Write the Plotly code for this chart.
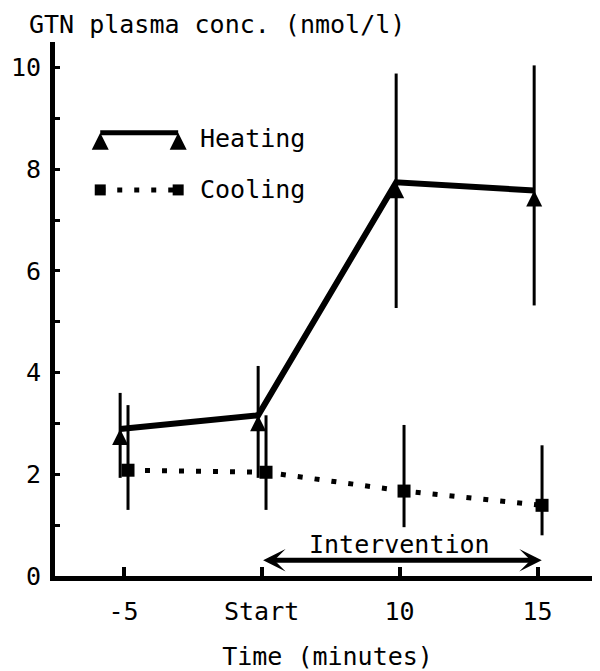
import plotly.graph_objects as go

# ---- data ----
categories = ["-5", "Start", "10", "15"]

heating_mean = [2.89, 3.16, 7.74, 7.58]
heating_upper = [3.60, 4.13, 9.88, 10.04]
heating_lower = [1.93, 1.93, 5.27, 5.32]

cooling_mean = [2.08, 2.04, 1.67, 1.39]
cooling_upper = [3.36, 3.16, 2.97, 2.57]
cooling_lower = [1.30, 1.30, 0.96, 0.80]

y_tick_values = list(range(0, 11))
y_tick_labels = [str(v) if v % 2 == 0 else "" for v in y_tick_values]

x_title = "Time (minutes)"
y_title = "GTN plasma conc. (nmol/l)"
intervention_label = "Intervention"
intervention_from = "Start"
intervention_to = "15"

# ---- derived ----
x_idx = list(range(len(categories)))
HEAT_SHIFT = -0.025
COOL_SHIFT = 0.032
hx = [i + HEAT_SHIFT for i in x_idx]
cx = [i + COOL_SHIFT for i in x_idx]
h_plus = [u - m for u, m in zip(heating_upper, heating_mean)]
h_minus = [m - l for m, l in zip(heating_mean, heating_lower)]
c_plus = [u - m for u, m in zip(cooling_upper, cooling_mean)]
c_minus = [m - l for m, l in zip(cooling_mean, cooling_lower)]

FONT = "DejaVu Sans Mono"
FS = 25
DOT_DASH = "5px,12px"

fig = go.Figure()

fig.add_trace(go.Scatter(
    x=hx, y=heating_mean, mode="lines+markers", name="Heating",
    line=dict(color="black", width=6, backoff=0),
    marker=dict(symbol="arrow-up", size=16, color="black"),
    error_y=dict(type="data", symmetric=False, array=h_plus, arrayminus=h_minus,
                 color="black", thickness=3, width=0),
    showlegend=False,
))

fig.add_trace(go.Scatter(
    x=cx, y=cooling_mean, mode="lines+markers", name="Cooling",
    line=dict(color="black", width=5, dash=DOT_DASH),
    marker=dict(symbol="square", size=13, color="black"),
    error_y=dict(type="data", symmetric=False, array=c_plus, arrayminus=c_minus,
                 color="black", thickness=3, width=0),
    showlegend=False,
))

# ---- legend keys drawn on an overlay axis (fractions of the plot area) ----
LEG_X = [0.083, 0.226]
LEG_Y_HEAT = 0.83
LEG_Y_COOL = 0.723
fig.add_trace(go.Scatter(
    x=LEG_X, y=[LEG_Y_HEAT, LEG_Y_HEAT], xaxis="x2", yaxis="y2",
    mode="lines+markers", line=dict(color="black", width=5, backoff=0),
    marker=dict(symbol="arrow-up", size=17, color="black"),
    showlegend=False, hoverinfo="skip",
))
fig.add_trace(go.Scatter(
    x=LEG_X, y=[LEG_Y_COOL, LEG_Y_COOL], xaxis="x2", yaxis="y2",
    mode="lines+markers", line=dict(color="black", width=5, dash=DOT_DASH),
    marker=dict(symbol="square", size=11, color="black"),
    showlegend=False, hoverinfo="skip",
))

# The page body has an 8px default margin, so the figure is 8px smaller
fig.update_layout(
    width=592, height=663,
    margin=dict(l=47, r=0, t=34, b=95, autoexpand=False),
    plot_bgcolor="white", paper_bgcolor="white",
    font=dict(family=FONT, size=FS, color="black"),
    showlegend=False,
    xaxis2=dict(overlaying="x", range=[0, 1], visible=False, fixedrange=True),
    yaxis2=dict(overlaying="y", range=[0, 1], visible=False, fixedrange=True),
)

fig.layout.xaxis.update(
    range=[-0.497, 3.452], tickvals=x_idx, ticktext=categories,
    ticks="inside", ticklen=9, tickwidth=4, tickcolor="black",
    showline=True, linewidth=5, linecolor="black",
    showgrid=False, zeroline=False, automargin=False,
    ticklabelstandoff=9,
    title=dict(text=x_title, standoff=25, font=dict(family=FONT, size=FS)),
)
fig.layout.yaxis.update(
    range=[0, 10.5], tickvals=y_tick_values, ticktext=y_tick_labels,
    ticks="inside", ticklen=5, tickwidth=3, tickcolor="black",
    showline=True, linewidth=5, linecolor="black",
    showgrid=False, zeroline=False, automargin=False,
    ticklabelstandoff=4,
)

annotations = [
    dict(text=y_title, xref="paper", yref="paper", x=-0.0514, y=1.032,
         xanchor="left", yanchor="middle", showarrow=False,
         font=dict(family=FONT, size=FS)),
    dict(text="Heating", xref="paper", yref="paper", x=0.262, y=0.82,
         xanchor="left", yanchor="middle", showarrow=False,
         font=dict(family=FONT, size=FS)),
    dict(text="Cooling", xref="paper", yref="paper", x=0.262, y=0.723,
         xanchor="left", yanchor="middle", showarrow=False,
         font=dict(family=FONT, size=FS)),
    dict(text=intervention_label, xref="x", yref="y",
         x=(categories.index(intervention_from) + categories.index(intervention_to)) / 2,
         y=0.61, xanchor="center", yanchor="middle", showarrow=False,
         font=dict(family=FONT, size=FS)),
    dict(text="", xref="x", yref="y", axref="x", ayref="y",
         x=categories.index(intervention_to) + 0.03, y=0.31,
         ax=categories.index(intervention_from), ay=0.31,
         showarrow=True, arrowside="end+start",
         arrowhead=3, startarrowhead=3, arrowwidth=5,
         arrowsize=0.75, startarrowsize=0.75, arrowcolor="black"),
]
fig.update_layout(annotations=annotations)

fig.write_html("out.html")
